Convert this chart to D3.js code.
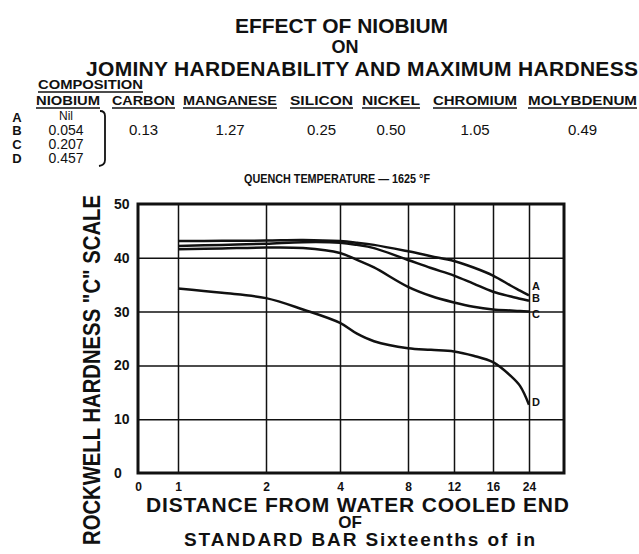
<!DOCTYPE html>
<html lang="en">
<head>
<meta charset="UTF-8">
<title>Effect of Niobium on Jominy Hardenability</title>
<script src="https://d3js.org/d3.v7.min.js"></script>
<style>
    body { margin: 0; background: #fff; }
    svg text { font-family: 'Liberation Sans', Arial, sans-serif; font-weight: bold; fill: #111; }
</style>
</head>
<body>
<div id="chart"></div>
<script>
    // composition table
    var alloys = ["A", "B", "C", "D"];
    var niobium = ["Nil", "0.054", "0.207", "0.457"];
    var elements = ["NIOBIUM", "CARBON", "MANGANESE", "SILICON", "NICKEL", "CHROMIUM", "MOLYBDENUM"];
    var otherValues = ["", "0.13", "1.27", "0.25", "0.50", "1.05", "0.49"];

    // jominy distance (sixteenths of an inch) and hardness readings
    var distance = [1, 1.5, 2, 3, 4, 5, 6, 8, 10, 12, 14, 16, 20, 22, 24];
    var hardA = [43.1, 43.15, 43.2, 43.3, 43.1, 42.8, 42.4, 41.2, 40.3, 39.4, 38.2, 36.7, 34.8, 33.9, 33.0];
    var hardB = [42.2, 42.4, 42.6, 42.9, 42.8, 42.4, 41.8, 39.6, 38.1, 36.7, 35.2, 33.7, 32.8, 32.4, 32.0];
    var hardC = [41.6, 41.75, 41.9, 41.8, 40.9, 39.6, 38.2, 34.6, 32.9, 31.7, 30.9, 30.4, 30.2, 30.1, 30.0];
    var hardD = [34.3, 33.5, 32.5, 30.4, 27.9, 25.9, 24.5, 23.2, 22.9, 22.6, 21.8, 20.6, 18.0, 16.2, 12.7];
    var endLabelY = [34.6, 32.4, 29.4, 13.0];

    var xTicks = [0, 1, 2, 4, 8, 12, 16, 24];
    var yTicks = [0, 10, 20, 30, 40, 50];

    var svg = d3.select("#chart").append("svg")
        .attr("width", 639)
        .attr("height", 554);

    //plot box
    var plotL = 138, plotR = 564, plotT = 204, plotB = 473;

    // the jominy scale is not linear, so map each tick to where it sits on the sheet
    var x = d3.scaleLinear()
        .domain([0, 1, 2, 4, 8, 12, 16, 24, 31])
        .range([0, 40, 128, 202, 270, 316, 355, 391, 426].map(function(d) { return d + plotL; }));
    var y = d3.scaleLinear().domain([0, 50]).range([plotB, plotT]);

    //titles
    svg.append("text").attr("x", 235).attr("y", 33)
        .attr("textLength", 213).attr("lengthAdjust", "spacingAndGlyphs")
        .style("font-size", "21px").text("EFFECT OF NIOBIUM");
    svg.append("text").attr("x", 345).attr("y", 53).attr("text-anchor", "middle")
        .style("font-size", "18px").text("ON");
    svg.append("text").attr("x", 86).attr("y", 76)
        .attr("textLength", 552).attr("lengthAdjust", "spacing")
        .style("font-size", "21px").text("JOMINY HARDENABILITY AND MAXIMUM HARDNESS");

    //composition table
    svg.append("text").attr("x", 38).attr("y", 89)
        .attr("textLength", 105).attr("lengthAdjust", "spacingAndGlyphs")
        .style("font-size", "13px").text("COMPOSITION");
    svg.append("line").attr("x1", 38).attr("x2", 143).attr("y1", 92).attr("y2", 92)
        .attr("stroke", "#111").attr("stroke-width", 1.5);

    var colSpans = [[36, 100], [112, 175], [183, 277], [290, 353], [362, 420], [433, 517], [528, 637]];
    var cols = svg.append("g");
    elements.forEach(function(el, i) {
        var s = colSpans[i];
        cols.append("text").attr("x", s[0]).attr("y", 105)
            .attr("textLength", s[1] - s[0]).attr("lengthAdjust", "spacingAndGlyphs")
            .style("font-size", "13px").text(el);
        cols.append("line").attr("x1", s[0]).attr("x2", s[1]).attr("y1", 108).attr("y2", 108)
            .attr("stroke", "#111").attr("stroke-width", 1.5);
        if (otherValues[i]) {
            cols.append("text").attr("x", (s[0] + s[1]) / 2).attr("y", 135)
                .attr("text-anchor", "middle").style("font-size", "15px").style("font-weight", "normal")
                .text(otherValues[i]);
        }
    });

    var rowY = [122, 135, 149, 163];
    alloys.forEach(function(a, i) {
        svg.append("text").attr("x", 17).attr("y", rowY[i]).attr("text-anchor", "middle")
            .style("font-size", "13px").text(a);
        svg.append("text").attr("x", 66).attr("y", rowY[i] - (i == 0 ? 2 : 0)).attr("text-anchor", "middle")
            .style("font-size", i == 0 ? "12px" : "14px").style("font-weight", "normal")
            .text(niobium[i]);
    });
    // bracket joining the niobium rows
    svg.append("path").attr("d", "M100,111 Q105,111 105,116 L105,160 Q105,165 99,166")
        .attr("fill", "none").attr("stroke", "#111").attr("stroke-width", 1.8);

    svg.append("text").attr("x", 244).attr("y", 183)
        .attr("textLength", 186).attr("lengthAdjust", "spacingAndGlyphs")
        .style("font-size", "13px").text("QUENCH TEMPERATURE \u2014 1625 \u00B0F");

    //grid lines
    svg.append("g")
        .attr("transform", "translate(0," + plotB + ")")
        .call(d3.axisBottom(x).tickValues(xTicks.slice(1)).tickSize(-(plotB - plotT)).tickFormat(""))
        .call(function(g) { g.select(".domain").remove(); })
        .selectAll("line").attr("stroke", "#111").attr("stroke-width", 1.5);
    svg.append("g")
        .attr("transform", "translate(" + plotL + ",0)")
        .call(d3.axisLeft(y).tickValues([10, 20, 30, 40]).tickSize(-(plotR - plotL)).tickFormat(""))
        .call(function(g) { g.select(".domain").remove(); })
        .selectAll("line").attr("stroke", "#111").attr("stroke-width", 1.5);

    //frame
    svg.append("rect").attr("x", plotL).attr("y", plotT)
        .attr("width", plotR - plotL).attr("height", plotB - plotT)
        .attr("fill", "none").attr("stroke", "#111").attr("stroke-width", 3);

    //tick labels
    var xAxis = svg.append("g")
        .attr("transform", "translate(0," + (plotB + 18) + ")")
        .call(d3.axisBottom(x).tickValues(xTicks).tickSize(0).tickPadding(0));
    xAxis.select(".domain").remove();
    xAxis.selectAll("text").style("font-size", "12px").attr("dy", 0).attr("y", 0);

    var yAxis = svg.append("g")
        .attr("transform", "translate(114,0)")
        .call(d3.axisLeft(y).tickValues(yTicks).tickSize(0));
    yAxis.select(".domain").remove();
    yAxis.selectAll("text").style("font-size", "14px").attr("x", 0).attr("text-anchor", "start");

    //curves
    var series = [hardA, hardB, hardC, hardD];
    var line = d3.line()
        .x(function(d, i) { return x(distance[i]); })
        .y(function(d) { return y(d); })
        .curve(d3.curveCatmullRom.alpha(0.5));
    svg.append("g").selectAll("path")
        .data(series)
        .enter().append("path")
        .attr("d", line)
        .attr("fill", "none")
        .attr("stroke", "#111")
        .attr("stroke-width", 2.5);

    svg.append("g").selectAll("text")
        .data(alloys)
        .enter().append("text")
        .attr("x", x(24) + 3)
        .attr("y", function(d, i) { return y(endLabelY[i]); })
        .attr("dominant-baseline", "middle")
        .style("font-size", "11px")
        .text(function(d) { return d; });

    //axis titles
    svg.append("text")
        .attr("transform", "translate(100,370)rotate(-90)")
        .attr("text-anchor", "middle")
        .attr("textLength", 350).attr("lengthAdjust", "spacingAndGlyphs")
        .style("font-size", "23px")
        .text("ROCKWELL HARDNESS \"C\" SCALE");
    svg.append("text").attr("x", 146).attr("y", 512)
        .attr("textLength", 423).attr("lengthAdjust", "spacing")
        .style("font-size", "21px").text("DISTANCE FROM WATER COOLED END");
    svg.append("text").attr("x", 350).attr("y", 528).attr("text-anchor", "middle")
        .style("font-size", "17px").text("OF");
    svg.append("text").attr("x", 184).attr("y", 546)
        .attr("textLength", 351).attr("lengthAdjust", "spacing")
        .style("font-size", "19px").text("STANDARD BAR Sixteenths of in");
</script>
</body>
</html>
